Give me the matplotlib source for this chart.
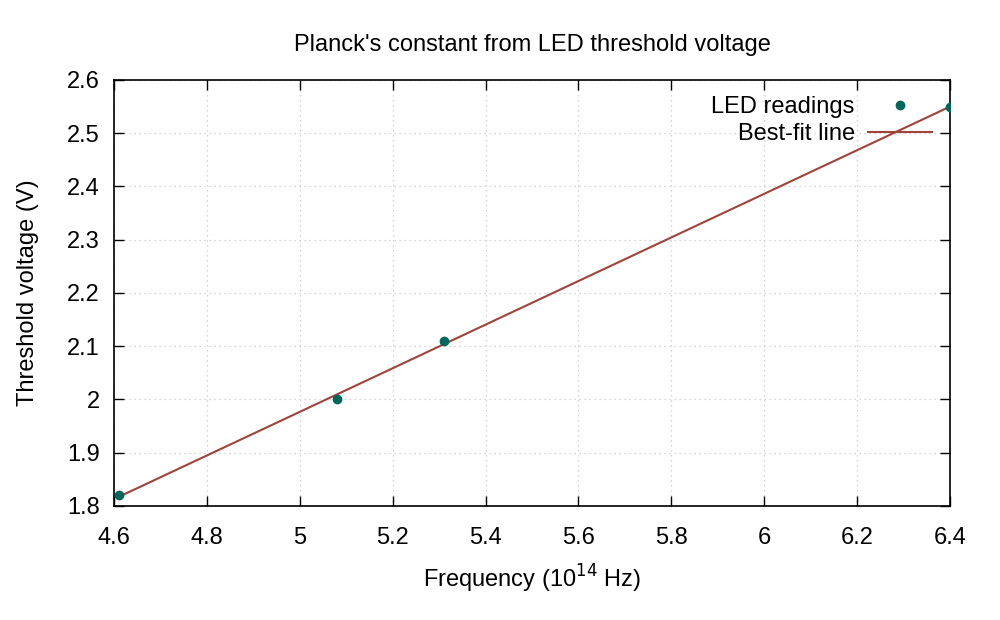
import numpy as np
import matplotlib
matplotlib.use("Agg")
import matplotlib.pyplot as plt
from matplotlib.ticker import FuncFormatter, MultipleLocator

freq = [4.61, 5.08, 5.31, 6.40]
voltage = [1.82, 2.00, 2.11, 2.55]

x = np.array(freq)
y = np.array(voltage)
slope, intercept = np.polyfit(x, y, 1)
xf = np.array([x.min(), x.max()])

plt.rcParams['font.family'] = ['Liberation Sans', 'DejaVu Sans']
fig = plt.figure(figsize=(10, 6.2), dpi=100)
ax = fig.add_axes([0.114, 0.184, 0.836, 0.687])

ax.plot(x, y, 'o', color='#00675b', markersize=6, label='LED readings', zorder=3)
ax.plot(xf, slope * xf + intercept, '-', color='#a0443a', linewidth=1.5, label='Best-fit line', zorder=2)

ax.set_xlim(4.6, 6.4)
ax.set_ylim(1.8, 2.6)
ax.xaxis.set_major_locator(MultipleLocator(0.2))
ax.yaxis.set_major_locator(MultipleLocator(0.1))
ax.xaxis.set_major_formatter(FuncFormatter(lambda v, p: f"{round(v, 2):g}"))
ax.yaxis.set_major_formatter(FuncFormatter(lambda v, p: f"{round(v, 2):g}"))
ax.tick_params(direction='in', length=7, width=1, top=True, right=True, labelsize=17)
ax.tick_params(axis='x', pad=15)
ax.tick_params(axis='y', pad=10)
ax.grid(True, color='#c8c8c8', linestyle=(0, (1, 3)), linewidth=0.9)
for s in ax.spines.values():
    s.set_linewidth(1.2)

ax.set_xlabel('Frequency (10$^{14}$ Hz)', fontsize=17, labelpad=10)
ax.set_ylabel('Threshold voltage (V)', fontsize=17, labelpad=20)
ax.set_title("Planck's constant from LED threshold voltage", fontsize=17, pad=21)

ax.legend(loc='upper right', frameon=False, markerfirst=False, fontsize=17,
          handlelength=2.7, borderaxespad=0, borderpad=0, labelspacing=0.2,
          handletextpad=0.55, bbox_to_anchor=(0.978, 0.962))

fig.savefig('out.png', dpi=100)
